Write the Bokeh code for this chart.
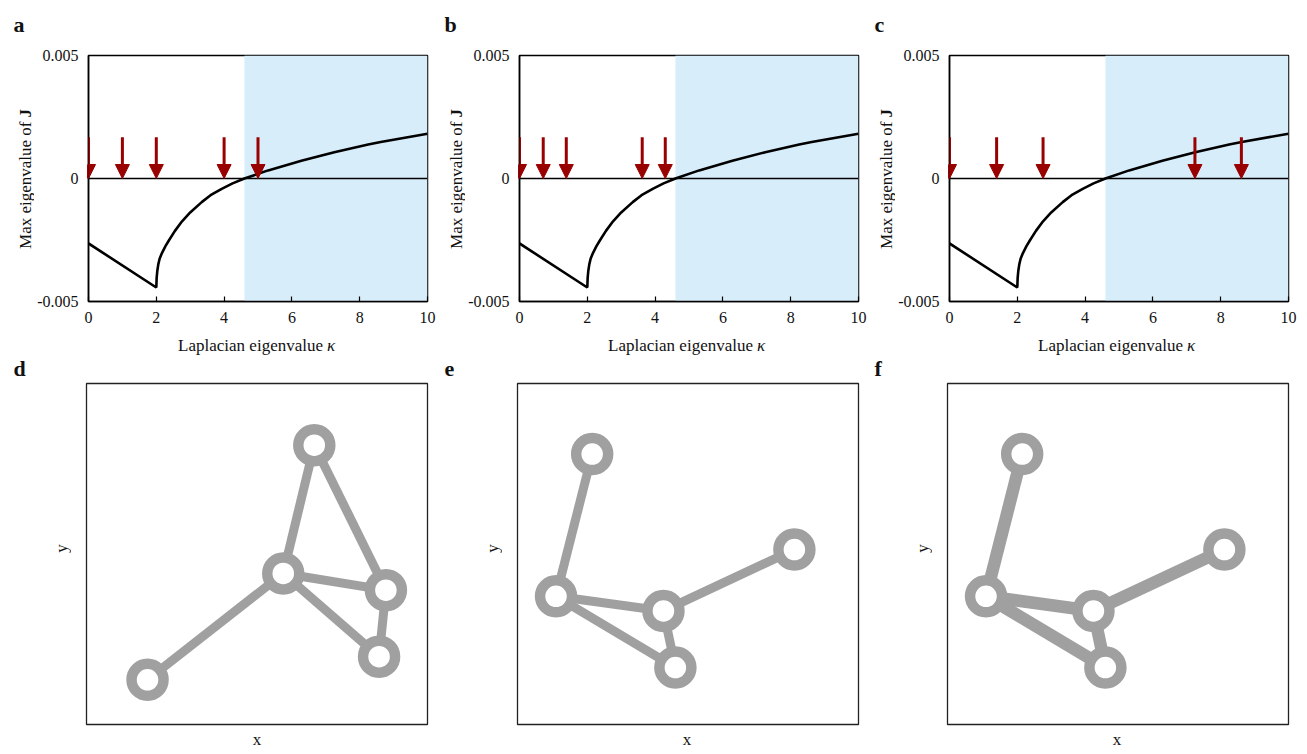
import math
from bokeh.plotting import figure
from bokeh.models import (Label, Span, BoxAnnotation, Arrow, NormalHead,
                          ColumnDataSource, FixedTicker, Range1d)
from bokeh.layouts import column, row
from bokeh.embed import file_html
from bokeh.resources import INLINE

# ---------------- data ----------------
# Max eigenvalue of J as a function of the Laplacian eigenvalue kappa
kappa_curve = [0, 2.0, 2.01, 2.03, 2.06, 2.1, 2.17, 2.27, 2.37, 2.55, 2.76, 3.0,
               3.34, 3.6, 3.93, 4.25, 4.6, 5.3, 6.28, 7.25, 8.25, 8.62, 10]
eig_curve = [-0.00264, -0.00443, -0.00405, -0.00375, -0.00348, -0.00325, -0.00302,
             -0.00275, -0.00252, -0.00213, -0.00174, -0.00138, -0.00096, -0.00068,
             -0.00042, -0.00020, 0.0, 0.00033, 0.00072, 0.00107, 0.00138, 0.00148,
             0.00182]
unstable_from = 4.6          # start of the shaded (unstable) band
unstable_to = 10

# Laplacian eigenvalues of the three networks (arrows)
arrows_a = [0, 1, 2, 4, 5]
arrows_b = [0, 0.70, 1.38, 3.62, 4.30]
arrows_c = [0, 1.39, 2.76, 7.24, 8.61]

x_ticks = [0, 2, 4, 6, 8, 10]
y_ticks = [-0.005, 0, 0.005]
y_tick_labels = ["-0.005", "0", "0.005"]

# networks (node positions in the unit box)
nodes_d_x = [0.668, 0.577, 0.878, 0.858, 0.179]
nodes_d_y = [0.819, 0.443, 0.394, 0.199, 0.131]
edges_d = [(4, 1), (1, 0), (0, 2), (1, 2), (1, 3), (2, 3)]
weights_d = [1, 1, 1, 1, 1, 1]

nodes_e_x = [0.219, 0.113, 0.428, 0.463, 0.812]
nodes_e_y = [0.793, 0.376, 0.333, 0.167, 0.513]
edges_e = [(0, 1), (1, 2), (1, 3), (2, 3), (2, 4)]
weights_e = [1, 1, 1, 1, 1]

nodes_f_x = [0.219, 0.113, 0.428, 0.463, 0.812]
nodes_f_y = [0.793, 0.376, 0.333, 0.167, 0.513]
edges_f = [(0, 1), (1, 2), (1, 3), (2, 3), (2, 4)]
weights_f = [2, 2, 2, 2, 2]

panel_letters_top = ["a", "b", "c"]
panel_letters_bottom = ["d", "e", "f"]

# ---------------- style ----------------
SERIF = "Liberation Serif"
ARROW_RED = "#990000"
BAND = "#d7edfa"
GREY = "#a0a0a0"
EDGE_W = {1: 9, 2: 12.5}
LABEL_SIZE = "17px"
LETTER_SIZE = "22px"


def strip(w, h, top=0, bottom=0, y0=None, y1=None):
    """A bare canvas used only to hold text outside the plot frames.
    Its y data range is given in page pixels (downwards)."""
    if y0 is None:
        y0, y1 = 0, h
    s = figure(width=w, height=h, x_range=Range1d(0, w), y_range=Range1d(y1, y0),
               min_border=0, min_border_left=0, min_border_right=0,
               min_border_top=top, min_border_bottom=bottom,
               x_axis_type=None, y_axis_type=None,
               output_backend="svg", toolbar_location=None)
    s.outline_line_color = None
    s.background_fill_color = "white"
    s.border_fill_color = "white"
    return s


def txt(s, x, y, t, size=LABEL_SIZE, style="normal", align="left",
        baseline="middle", angle=0.0):
    s.add_layout(Label(x=x, y=y, text=t, text_font=SERIF, text_font_size=size,
                       text_font_style=style, text_align=align,
                       text_baseline=baseline, angle=angle, text_color="#111111"))


def top_panel(arrows, left, right):
    p = figure(width=left + 341 + right, height=286, min_border_left=left,
               min_border_right=right, min_border_top=10, min_border_bottom=30,
               x_range=Range1d(0, 10), y_range=Range1d(-0.005, 0.005),
               output_backend="svg", toolbar_location=None)
    p.grid.visible = False
    p.outline_line_color = "black"
    p.outline_line_width = 1.5
    p.background_fill_color = "white"
    p.border_fill_color = "white"

    p.xaxis.ticker = FixedTicker(ticks=x_ticks)
    p.yaxis.ticker = FixedTicker(ticks=y_ticks)
    p.yaxis.major_label_overrides = {t: s for t, s in zip(y_ticks, y_tick_labels)}
    for ax in (p.xaxis[0], p.yaxis[0]):
        ax.axis_line_color = "black"
        ax.axis_line_width = 1.5
        ax.minor_tick_line_color = None
        ax.major_label_text_font = SERIF
        ax.major_label_text_font_size = "16px"
        ax.major_label_text_color = "#111111"
        ax.major_label_standoff = 10
    p.xaxis.major_tick_in = 5
    p.xaxis.major_tick_out = 0
    p.xaxis.major_tick_line_color = "black"
    p.xaxis.major_tick_line_width = 1.2
    p.yaxis.major_tick_in = 0
    p.yaxis.major_tick_out = 0
    p.yaxis.major_tick_line_color = None

    p.add_layout(BoxAnnotation(left=unstable_from, right=unstable_to,
                               fill_color=BAND, fill_alpha=1.0, line_alpha=0,
                               level="underlay"))
    p.add_layout(Span(location=0, dimension="width", line_color="black",
                      line_width=1.5))
    p.line(kappa_curve, eig_curve, line_color="black", line_width=2.6)

    src = ColumnDataSource(dict(x0=arrows, y0=[0.00168] * len(arrows),
                                x1=arrows, y1=[0.0] * len(arrows)))
    p.add_layout(Arrow(end=NormalHead(size=14, fill_color=ARROW_RED,
                                      line_color=ARROW_RED, line_width=1),
                       x_start="x0", y_start="y0", x_end="x1", y_end="y1",
                       source=src, line_color=ARROW_RED, line_width=3))
    return p


def net_panel(nx, ny, edges, weights, left, right):
    p = figure(width=left + 341 + right, height=344, min_border_left=left,
               min_border_right=right, min_border_top=1, min_border_bottom=2,
               x_range=Range1d(0, 1), y_range=Range1d(0, 1),
               x_axis_type=None, y_axis_type=None,
               output_backend="svg", toolbar_location=None)
    p.grid.visible = False
    p.outline_line_color = "#222222"
    p.outline_line_width = 1.3
    p.border_fill_color = "white"

    es = ColumnDataSource(dict(
        x0=[nx[a] for a, b in edges], y0=[ny[a] for a, b in edges],
        x1=[nx[b] for a, b in edges], y1=[ny[b] for a, b in edges],
        w=[EDGE_W[w] for w in weights]))
    p.segment("x0", "y0", "x1", "y1", source=es, line_color=GREY,
              line_width="w", line_cap="butt")
    p.scatter(nx, ny, marker="circle", size=32, fill_color="white",
              line_color=GREY, line_width=10.5)
    return p


frame_centres = [256.5, 686.5, 1116.5]
letter_x = [13, 444, 874]

# ---- top strip: panel letters a, b, c (page y 0..45) ----
top_letters = strip(1299, 45)
for i in range(3):
    txt(top_letters, letter_x[i], 24, panel_letters_top[i], size=LETTER_SIZE,
        style="bold", baseline="alphabetic")

# ---- top row (page y 45..331): [y-label strip | panel] x 3 ----
top_strip_w = [34, 26, 26]
top_left_border = [52, 52, 52]
top_right_border = [12, 11, 11]
top_arrows = [arrows_a, arrows_b, arrows_c]
top_row = []
for i in range(3):
    # frame of the strip is aligned with the panel frame: page y 55..301
    s = strip(top_strip_w[i], 286, top=10, bottom=30, y0=55, y1=301)
    cx = top_strip_w[i] - 9.5    # centre of the rotated y label
    txt(s, cx, 121, "Max eigenvalue of", align="right", angle=math.pi / 2)
    txt(s, cx, 117, "J", style="bold", align="left", angle=math.pi / 2)
    top_row += [s, top_panel(top_arrows[i], top_left_border[i], top_right_border[i])]

# ---- middle strip (page y 331..382): x labels of the top row, letters d, e, f ----
mid = strip(1299, 51)
for i in range(3):
    c = frame_centres[i]
    txt(mid, c + 66, 14, "Laplacian eigenvalue", align="right")
    txt(mid, c + 70, 14, "κ", style="italic", align="left")
    txt(mid, letter_x[i], 37, panel_letters_bottom[i], size=LETTER_SIZE,
        style="bold", baseline="alphabetic")

# ---- bottom row (page y 382..726): [y-label strip | network] x 3 ----
bot_strip_w = [71, 63, 63]
bot_right_border = [12, 11, 11]
nets = [(nodes_d_x, nodes_d_y, edges_d, weights_d),
        (nodes_e_x, nodes_e_y, edges_e, weights_e),
        (nodes_f_x, nodes_f_y, edges_f, weights_f)]
bot_row = []
for i in range(3):
    s = strip(bot_strip_w[i], 344, top=1, bottom=2, y0=383, y1=724)
    txt(s, bot_strip_w[i] - 10, 548, "y", align="center", angle=math.pi / 2)
    nx, ny, ed, w = nets[i]
    bot_row += [s, net_panel(nx, ny, ed, w, 15, bot_right_border[i])]

# ---- bottom strip (page y 726..750): x labels of the networks ----
bot = strip(1299, 24)
for c in frame_centres:
    txt(bot, c, 13, "x", align="center")

layout = column(top_letters, row(*top_row), mid, row(*bot_row), bot)
open("out.html", "w").write(file_html(layout, INLINE))
